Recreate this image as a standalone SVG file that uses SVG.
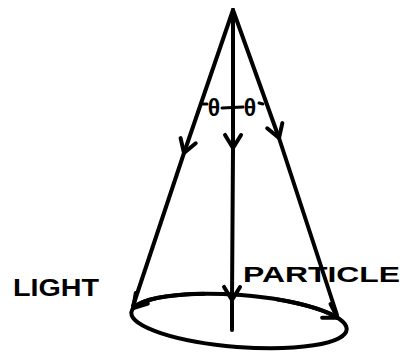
<svg xmlns="http://www.w3.org/2000/svg" width="403" height="352" viewBox="0 0 403 352">
<style>
.ln{fill:none;stroke:#000;stroke-width:4;stroke-linecap:round;stroke-linejoin:round}
.thin{fill:none;stroke:#000;stroke-width:3;stroke-linecap:round}
.lbl{font-family:"Liberation Sans",Arial,sans-serif;font-weight:bold;fill:#000}
</style>
<defs>
<marker id="ah" markerUnits="userSpaceOnUse" markerWidth="30" markerHeight="30" viewBox="-15 -15 30 30" refX="0" refY="0" orient="auto" overflow="visible">
<path d="M-13,-8 L0,0 L-13,8" fill="none" stroke="#000" stroke-width="4" stroke-linecap="round" stroke-linejoin="round"/>
</marker>
</defs>
<rect width="403" height="352" fill="#fff"/>
<g id="connectors">
<polyline id="left-ray" class="ln" points="233,10 184,153 133,306" marker-mid="url(#ah)"/>
<polyline id="center-ray" class="ln" points="233,10 233,148 232,300 232,330" marker-mid="url(#ah)"/>
<polyline id="right-ray" class="ln" points="233,10 279,138 337,315" marker-mid="url(#ah)"/>
<path class="ln" d="M204.1,293.7 A108 26 4.5 0 0 133.3,308.1" marker-end="url(#ah)"/>
<path class="ln" d="M277.7,299.5 A108 26 4.5 0 1 337.4,317.7" marker-end="url(#ah)"/>
</g>
<g id="base">
<ellipse class="ln" cx="239" cy="321" rx="108" ry="26" transform="rotate(4.5 239 321)"/>
</g>
<g id="angle">
<line class="thin" x1="203" y1="104" x2="207" y2="104"/>
<line class="thin" x1="222" y1="108" x2="243" y2="107"/>
<line class="thin" x1="259" y1="103" x2="263" y2="104"/>
<text class="lbl" x="214" y="116" font-size="23" text-anchor="middle">θ</text>
<text class="lbl" x="250" y="116" font-size="23" text-anchor="middle">θ</text>
</g>
<g id="light">
<text class="lbl" x="13" y="296" font-size="24" textLength="86" lengthAdjust="spacingAndGlyphs">LIGHT</text>
</g>
<g id="particle">
<text class="lbl" x="243" y="282" font-size="22" textLength="157" lengthAdjust="spacingAndGlyphs">PARTICLE</text>
</g>
</svg>
